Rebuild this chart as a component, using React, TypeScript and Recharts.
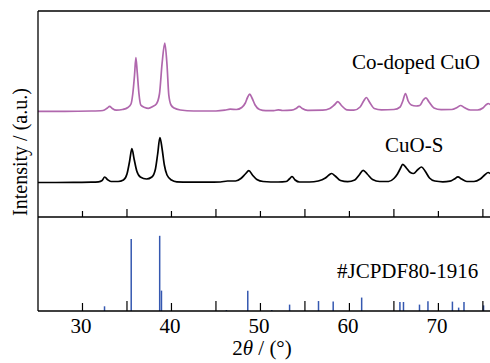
import {
  LineChart,
  Line,
  ComposedChart,
  Bar,
  XAxis,
  YAxis,
  ReferenceDot,
} from "recharts";

// XRD patterns: [2θ (°), intensity (a.u.)], curves already stacked for display
const coDopedCuO: [number, number][] = [
  [25, 105.7], [28, 105.7], [31, 106], [32.3, 106.5], [32.8, 109], [33.05, 110.7],
  [33.35, 108.5], [33.8, 106.8], [34.5, 107.5], [35.1, 109.5], [35.45, 113],
  [35.65, 123], [35.85, 142], [36.0, 159.5], [36.15, 145], [36.35, 123], [36.55, 112],
  [37.0, 109.5], [37.4, 108.7], [37.9, 110.5], [38.3, 113], [38.65, 123], [38.95, 154],
  [39.25, 174], [39.5, 152], [39.7, 122], [39.95, 112], [40.3, 109], [41.0, 107],
  [42.5, 106], [45.0, 106], [46.0, 106.8], [46.6, 107.8], [47.3, 107.5], [47.9, 109.5],
  [48.3, 114], [48.55, 119.5], [48.8, 122.8], [49.05, 119], [49.4, 112], [49.9, 107.5],
  [50.6, 106.3], [51.5, 106.3], [52.0, 107.2], [52.5, 106.5], [53.5, 106.8], [54.0, 108.5],
  [54.35, 110.7], [54.7, 108.5], [55.3, 106.7], [57.0, 106.8], [57.8, 108.5], [58.3, 112],
  [58.7, 115.3], [59.1, 111.5], [59.7, 107.2], [60.5, 106.8], [61.2, 110], [61.6, 116],
  [61.9, 119.5], [62.25, 115], [62.8, 108.5], [63.6, 107.2], [65.0, 107.5], [65.7, 110],
  [66.0, 116], [66.3, 123.5], [66.6, 116], [66.95, 112], [67.5, 111], [67.9, 111.5],
  [68.3, 117], [68.6, 119.2], [68.95, 115], [69.5, 109], [70.3, 107.4], [71.5, 107.5],
  [72.1, 109.5], [72.5, 111.5], [72.9, 109.5], [73.6, 107], [74.4, 107], [75.0, 109],
  [75.4, 112.5], [75.6, 113.5], [75.8, 112.5],
];

const cuoS: [number, number][] = [
  [25, 34.5], [27, 34.5], [29, 34.6], [31, 34.8], [31.8, 35.2], [32.2, 36.5], [32.5, 40],
  [32.8, 37.5], [33.2, 35.5], [34.0, 35.5], [34.6, 37], [35.0, 43], [35.3, 56],
  [35.55, 68.5], [35.8, 58], [36.1, 46], [36.5, 40], [37.2, 38], [37.8, 40], [38.2, 48],
  [38.45, 63], [38.7, 79.5], [38.95, 68], [39.2, 52], [39.5, 42], [40.0, 37], [40.6, 35.2],
  [42, 34.8], [44, 34.8], [45.5, 35], [46.3, 36], [47.2, 36], [47.8, 38.5], [48.3, 43],
  [48.7, 46.3], [49.1, 42], [49.6, 37.5], [50.3, 35.5], [52, 35], [52.9, 35.5],
  [53.3, 38.5], [53.55, 40.5], [53.9, 37], [54.4, 35], [55.5, 35], [56.5, 36], [57.3, 39],
  [57.7, 42], [58.0, 43.5], [58.4, 41], [59.0, 36.5], [59.8, 35.3], [60.6, 37], [61.1, 42],
  [61.55, 46.7], [62.0, 43], [62.6, 37.5], [63.4, 35.5], [64.4, 35.5], [65.0, 38.5],
  [65.4, 43], [65.7, 48], [66.0, 52.7], [66.4, 49], [66.85, 44.5], [67.2, 43.5],
  [67.7, 47.5], [68.1, 50], [68.5, 46], [69.0, 39], [69.6, 36], [70.5, 35.2], [71.3, 35.8],
  [71.8, 38], [72.2, 40.2], [72.6, 38], [73.2, 35.5], [74.0, 35.5], [74.7, 38], [75.2, 42],
  [75.6, 44.5], [75.8, 43.5],
];

// JCPDS 80-1916 reference lines
const refAngles = [
  32.5, 35.5, 38.7, 38.9, 46.2, 48.6, 51.3, 53.3, 56.55, 58.2, 61.4, 65.7, 66.1, 67.9,
  68.85, 71.6, 72.3, 72.9, 75.1,
];
const refIntensity = [
  5, 76.6, 80, 21.7, 1, 21.6, 1, 6.8, 10.6, 10, 14.3, 9.6, 9.6, 6.8, 10.3, 10, 3.6, 9.6, 6,
];

const xTicks = [30, 35, 40, 45, 50, 55, 60, 65, 70, 75];
const xLabels = [30, 40, 50, 60, 70];

const FONT = "'Liberation Serif', 'Times New Roman', serif";
const X_DOMAIN: [number, number] = [25, 75.8];
const AXIS_LINE = { stroke: "#000", strokeWidth: 1.3 };

const toPoints = (rows: [number, number][]) => rows.map(([t, v]) => ({ t, v }));
const sticks = refAngles.map((t, i) => ({ t, v: refIntensity[i] }));

// inward ticks, the odd multiples of five a little longer
const makeTick =
  (short: number, long: number, withLabels: boolean) =>
  (props: any) => {
    const { x, y, payload } = props;
    const len = payload.value % 10 === 0 ? short : long;
    return (
      <g>
        <line x1={x} x2={x} y1={y} y2={y - len} stroke="#000" strokeWidth={1.2} />
        {withLabels && xLabels.includes(payload.value) && (
          <text x={x - 1.5} y={y + 22} textAnchor="middle" fontSize={21} fontFamily={FONT} fill="#000">
            {payload.value}
          </text>
        )}
      </g>
    );
  };

const textLabel =
  (text: string) =>
  ({ viewBox }: any) =>
    (
      <text x={viewBox.x} y={viewBox.y} fontSize={21} fontFamily={FONT} fill="#000">
        {text}
      </text>
    );

export default function App() {
  return (
    <div style={{ position: "absolute", left: 0, top: 0, width: 490, height: 363, background: "#fff", overflow: "hidden" }}>
      <div style={{ position: "absolute", left: 0, top: 0 }}>
        <LineChart width={490} height={218} margin={{ top: 10, right: 0, bottom: 0, left: 37 }}>
          <XAxis
            xAxisId="top"
            orientation="top"
            type="number"
            dataKey="t"
            domain={X_DOMAIN}
            allowDataOverflow
            height={1}
            tick={false}
            tickLine={false}
            axisLine={AXIS_LINE}
          />
          <XAxis
            type="number"
            dataKey="t"
            domain={X_DOMAIN}
            allowDataOverflow
            ticks={xTicks}
            interval={0}
            height={1}
            tickSize={0}
            tickMargin={0}
            tickLine={false}
            tick={makeTick(6, 8, false)}
            axisLine={AXIS_LINE}
          />
          <YAxis
            domain={[0, 206]}
            allowDataOverflow
            width={1}
            tick={false}
            tickLine={false}
            axisLine={AXIS_LINE}
            label={{
              content: () => (
                <text
                  x={27}
                  y={152}
                  transform="rotate(-90, 27, 152)"
                  textAnchor="middle"
                  fontSize={20}
                  fontFamily={FONT}
                  fill="#000"
                >
                  Intensity / (a.u.)
                </text>
              ),
            }}
          />
          <Line
            data={toPoints(coDopedCuO)}
            dataKey="v"
            type="monotone"
            stroke="#b067ad"
            strokeWidth={1.7}
            dot={false}
            isAnimationActive={false}
          />
          <Line
            data={toPoints(cuoS)}
            dataKey="v"
            type="monotone"
            stroke="#000"
            strokeWidth={1.7}
            dot={false}
            isAnimationActive={false}
          />
          <ReferenceDot x={60.3} y={148} r={0} label={{ content: textLabel("Co-doped CuO") }} />
          <ReferenceDot x={64.0} y={65} r={0} label={{ content: textLabel("CuO-S") }} />
        </LineChart>
      </div>
      <div style={{ position: "absolute", left: 0, top: 217 }}>
        <ComposedChart width={490} height={146} data={sticks} margin={{ top: 0, right: 0, bottom: 0, left: 37 }}>
          <XAxis
            type="number"
            dataKey="t"
            domain={X_DOMAIN}
            allowDataOverflow
            ticks={xTicks}
            interval={0}
            height={52}
            tickSize={0}
            tickMargin={0}
            tickLine={false}
            tick={makeTick(8, 10, true)}
            axisLine={AXIS_LINE}
            label={{
              content: ({ viewBox }: any) => (
                <text
                  x={viewBox.x + viewBox.width / 2 - 2}
                  y={viewBox.y + 44}
                  textAnchor="middle"
                  fontSize={21}
                  fontFamily={FONT}
                  fill="#000"
                >
                  <tspan>2</tspan>
                  <tspan fontStyle="italic">θ</tspan>
                  <tspan> / (°)</tspan>
                </text>
              ),
            }}
          />
          <YAxis
            domain={[0, 100]}
            allowDataOverflow
            width={1}
            tick={false}
            tickLine={false}
            axisLine={AXIS_LINE}
          />
          <Bar
            dataKey="v"
            isAnimationActive={false}
            shape={(p: any) => (
              <line
                x1={p.x + p.width / 2}
                x2={p.x + p.width / 2}
                y1={p.y}
                y2={p.y + p.height}
                stroke="#3558b0"
                strokeWidth={1.5}
              />
            )}
          />
          <ReferenceDot x={58.6} y={35} r={0} label={{ content: textLabel("#JCPDF80-1916") }} />
        </ComposedChart>
      </div>
    </div>
  );
}
